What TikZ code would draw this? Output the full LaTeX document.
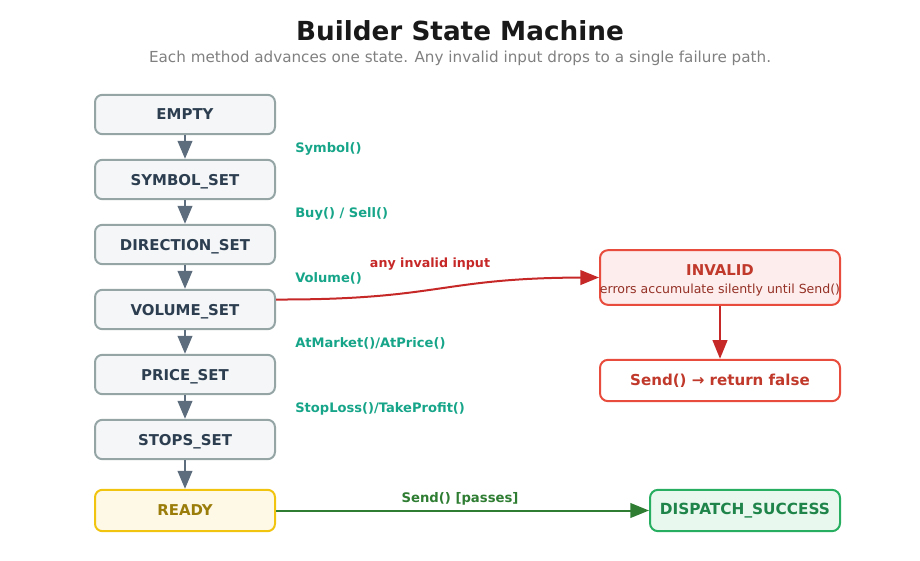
\documentclass[tikz,border=0pt]{standalone}
\usepackage{fontspec}
\setmainfont{DejaVu Sans}
\usetikzlibrary{arrows.meta}
\definecolor{grayfill}{HTML}{F4F6F7}
\definecolor{grayline}{HTML}{95A5A6}
\definecolor{graytext}{HTML}{2C3E50}
\definecolor{grayarrow}{HTML}{5D6D7E}
\definecolor{teal}{HTML}{17A589}
\definecolor{redline}{HTML}{E74C3C}
\definecolor{redfill}{HTML}{FDEDEC}
\definecolor{redtext}{HTML}{C0392B}
\definecolor{redarrow}{HTML}{C62828}
\definecolor{redsub}{HTML}{943126}
\definecolor{yelfill}{HTML}{FEF8E7}
\definecolor{yelline}{HTML}{F1C40F}
\definecolor{yeltext}{HTML}{9A7D0A}
\definecolor{grnfill}{HTML}{E8F8EE}
\definecolor{grnline}{HTML}{27AE60}
\definecolor{grntext}{HTML}{1E8449}
\definecolor{grnarrow}{HTML}{2E7D32}
\tikzset{
  state/.style={draw=grayline, fill=grayfill, line width=1.5pt, rounded corners=5.5pt,
    minimum width=135pt, minimum height=29.5pt, inner sep=0pt, text depth=0pt,
    text=graytext, font=\fontsize{11.2}{13}\selectfont\bfseries},
  trans/.style={text=teal, font=\fontsize{9.8}{11}\selectfont\bfseries, anchor=west, inner sep=0pt},
  flow/.style={draw=grayarrow, line width=1.5pt, -{Triangle[length=13.5pt,width=11pt]}},
}
\begin{document}
\begin{tikzpicture}[x=0.75pt,y=-0.75pt]
\useasboundingbox (0,0) rectangle (920,560);
\node[font=\fontsize{19.7}{22}\selectfont\bfseries, text=black!90] (title) at (460,31) {Builder State Machine};
\node[font=\fontsize{11.4}{13}\selectfont, text=black!50] (sub) at (460,58.5) {Each method advances one state. Any invalid input drops to a single failure path.};

\node[state] (empty) at (185,114.5) {EMPTY};
\node[state] (symbol) at (185,179.5) {SYMBOL\_SET};
\node[state] (direction) at (185,244.5) {DIRECTION\_SET};
\node[state] (volume) at (185,309.5) {VOLUME\_SET};
\node[state] (price) at (185,374.5) {PRICE\_SET};
\node[state] (stops) at (185,439.5) {STOPS\_SET};
\node[state, fill=yelfill, draw=yelline, text=yeltext, minimum height=31pt] (ready) at (185,510.5) {READY};

\draw[flow] (empty) -- (symbol);
\draw[flow] (symbol) -- (direction);
\draw[flow] (direction) -- (volume);
\draw[flow] (volume) -- (price);
\draw[flow] (price) -- (stops);
\draw[flow] (stops) -- (ready);

\node[trans] (l1) at (295,148.5) {Symbol()};
\node[trans] (l2) at (295,213.5) {Buy() / Sell()};
\node[trans] (l3) at (295,278.5) {Volume()};
\node[trans] (l4) at (295,343.5) {AtMarket()/AtPrice()};
\node[trans] (l5) at (295,408.5) {StopLoss()/TakeProfit()};

\node[draw=redline, fill=redfill, line width=1.5pt, rounded corners=6pt,
  minimum width=180pt, minimum height=41pt, inner sep=0pt] (invalid) at (720,277.5) {};
\node[text=redtext, font=\fontsize{11.2}{13}\selectfont\bfseries] (invt) at (720,270) {INVALID};
\node[text=redsub, font=\fontsize{9.4}{11}\selectfont] (invs) at (720,290.5) {errors accumulate silently until Send()};

\node[draw=redline, fill=white, line width=1.5pt, rounded corners=6pt,
  minimum width=180pt, minimum height=31pt, inner sep=0pt,
  text=redtext, font=\fontsize{11.3}{13}\selectfont\bfseries] (fail) at (720,380.5) {Send() → return false};

\node[draw=grnline, fill=grnfill, line width=1.5pt, rounded corners=6pt,
  minimum width=142.5pt, minimum height=31pt, inner sep=0pt,
  text=grntext, font=\fontsize{11.5}{13}\selectfont\bfseries] (success) at (745,510.5) {DISPATCH\_SUCCESS};

\coordinate (vstart) at ([yshift=7.5pt]volume.east);
\draw[draw=redarrow, line width=1.5pt, -{Triangle[length=14pt,width=11pt]}]
  (vstart) .. controls (440,300) and (440,278) .. (invalid.west);
\node[text=redarrow, font=\fontsize{9.5}{11}\selectfont\bfseries] (anyl) at (430,264.5) {any invalid input};

\draw[draw=redarrow, line width=1.5pt, -{Triangle[length=14pt,width=11pt]}] (invalid) -- (fail);

\draw[draw=grnarrow, line width=1.5pt, -{Triangle[length=14pt,width=11pt]}] (ready) -- (success);
\node[text=grnarrow, font=\fontsize{9.9}{11}\selectfont\bfseries] (sendl) at (460,498.5) {Send() [passes]};
\end{tikzpicture}
\end{document}
